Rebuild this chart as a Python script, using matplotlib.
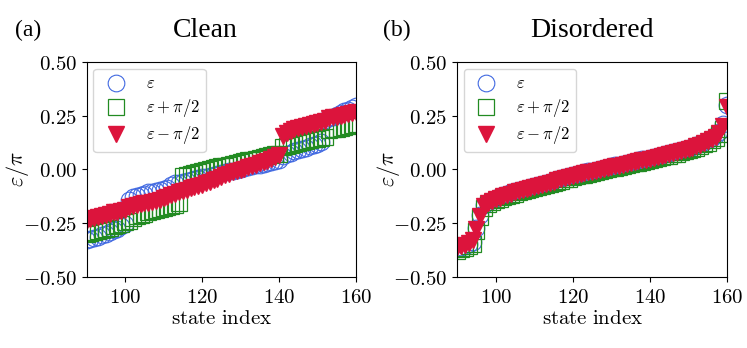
import numpy as np
import matplotlib
matplotlib.use("Agg")
import matplotlib.pyplot as plt
from matplotlib.ticker import FuncFormatter

plt.rcParams['mathtext.fontset'] = 'cm'

# %% Data
state_index = list(range(90, 161))

# (a) Clean
clean_eps = [-0.330, -0.325, -0.318, -0.312, -0.305, -0.298, -0.290, -0.283, -0.275, -0.265,
             -0.255, -0.140, -0.130, -0.123, -0.117, -0.112, -0.107, -0.103, -0.099, -0.095,
             -0.091, -0.087, -0.070, -0.065, -0.061, -0.057, -0.053, -0.049, -0.045, -0.041,
             -0.037, -0.033, -0.029, -0.025, -0.021, -0.017, -0.013, -0.009, -0.005, -0.001,
             0.003, 0.007, 0.011, 0.015, 0.019, 0.023, 0.027, 0.031, 0.035, 0.040,
             0.046, 0.062, 0.070, 0.077, 0.084, 0.090, 0.096, 0.102, 0.108, 0.114,
             0.120, 0.126, 0.230, 0.238, 0.246, 0.254, 0.262, 0.270, 0.278, 0.286,
             0.294]
clean_plus = [-0.300, -0.295, -0.290, -0.285, -0.280, -0.275, -0.270, -0.264, -0.258, -0.252,
              -0.246, -0.240, -0.225, -0.218, -0.212, -0.206, -0.200, -0.195, -0.190, -0.185,
              -0.180, -0.175, -0.170, -0.165, -0.158, -0.030, -0.025, -0.020, -0.015, -0.010,
              -0.006, -0.002, 0.002, 0.006, 0.010, 0.014, 0.018, 0.022, 0.026, 0.030,
              0.034, 0.038, 0.042, 0.046, 0.050, 0.054, 0.058, 0.062, 0.066, 0.070,
              0.074, 0.105, 0.110, 0.115, 0.120, 0.124, 0.128, 0.132, 0.136, 0.140,
              0.144, 0.148, 0.152, 0.182, 0.186, 0.190, 0.194, 0.198, 0.202, 0.206,
              0.210]
clean_minus = [-0.235, -0.230, -0.225, -0.220, -0.215, -0.210, -0.205, -0.200, -0.196, -0.192,
               -0.188, -0.175, -0.170, -0.166, -0.162, -0.158, -0.154, -0.150, -0.145, -0.140,
               -0.134, -0.128, -0.121, -0.114, -0.107, -0.100, -0.094, -0.088, -0.082, -0.076,
               -0.070, -0.063, -0.056, -0.049, -0.042, -0.035, -0.028, -0.021, -0.014, -0.008,
               -0.002, 0.004, 0.010, 0.016, 0.022, 0.028, 0.034, 0.040, 0.048, 0.056,
               0.066, 0.155, 0.168, 0.180, 0.186, 0.192, 0.198, 0.203, 0.208, 0.213,
               0.218, 0.222, 0.226, 0.238, 0.242, 0.246, 0.250, 0.254, 0.258, 0.262,
               0.268]

# (b) Disordered
dis_eps = [-0.370, -0.362, -0.355, -0.348, -0.335, -0.270, -0.210, -0.165, -0.150, -0.140,
           -0.132, -0.125, -0.119, -0.113, -0.107, -0.101, -0.096, -0.091, -0.086, -0.081,
           -0.076, -0.071, -0.066, -0.061, -0.056, -0.051, -0.046, -0.041, -0.036, -0.031,
           -0.026, -0.021, -0.017, -0.013, -0.009, -0.005, -0.001, 0.003, 0.007, 0.011,
           0.015, 0.019, 0.023, 0.027, 0.031, 0.035, 0.039, 0.043, 0.047, 0.051,
           0.055, 0.059, 0.063, 0.067, 0.071, 0.075, 0.080, 0.085, 0.090, 0.095,
           0.100, 0.106, 0.112, 0.119, 0.127, 0.136, 0.146, 0.158, 0.175, 0.210,
           0.300]
dis_plus = [-0.380, -0.372, -0.366, -0.358, -0.345, -0.285, -0.222, -0.178, -0.160, -0.150,
            -0.142, -0.136, -0.129, -0.124, -0.117, -0.112, -0.106, -0.102, -0.096, -0.092,
            -0.086, -0.082, -0.076, -0.072, -0.066, -0.062, -0.056, -0.052, -0.046, -0.042,
            -0.036, -0.032, -0.027, -0.024, -0.019, -0.016, -0.011, -0.008, -0.003, 0.000,
            0.005, 0.008, 0.013, 0.016, 0.021, 0.024, 0.029, 0.032, 0.037, 0.040,
            0.045, 0.048, 0.053, 0.056, 0.061, 0.064, 0.070, 0.074, 0.080, 0.084,
            0.090, 0.095, 0.102, 0.108, 0.117, 0.125, 0.136, 0.146, 0.165, 0.190,
            0.320]
dis_minus = [-0.360, -0.356, -0.350, -0.342, -0.330, -0.275, -0.218, -0.170, -0.156, -0.146,
             -0.137, -0.131, -0.124, -0.118, -0.112, -0.106, -0.101, -0.096, -0.091, -0.086,
             -0.081, -0.076, -0.071, -0.066, -0.061, -0.056, -0.051, -0.046, -0.041, -0.036,
             -0.031, -0.026, -0.022, -0.018, -0.014, -0.010, -0.006, -0.002, 0.002, 0.006,
             0.010, 0.014, 0.018, 0.022, 0.026, 0.030, 0.034, 0.038, 0.042, 0.046,
             0.050, 0.054, 0.058, 0.062, 0.066, 0.070, 0.075, 0.080, 0.085, 0.090,
             0.095, 0.101, 0.107, 0.114, 0.122, 0.131, 0.141, 0.153, 0.170, 0.200,
             0.290]

labels = [r'$\varepsilon$', r'$\varepsilon+\pi/2$', r'$\varepsilon-\pi/2$']
panel_tags = ['(a)', '(b)']
panel_titles = ['Clean', 'Disordered']
yticks = [-0.5, -0.25, 0.0, 0.25, 0.5]
xticks = [100, 120, 140, 160]

# %% Figure
fig = plt.figure(figsize=(7.47, 3.48), dpi=100)
ax_a = fig.add_axes([0.116, 0.204, 0.3605, 0.618])
ax_b = fig.add_axes([0.612, 0.204, 0.3614, 0.618])

panels = [(ax_a, clean_eps, clean_plus, clean_minus),
          (ax_b, dis_eps, dis_plus, dis_minus)]

for ax, e0, ep, em in panels:
    ax.plot(state_index, e0, 'o', ms=12, mfc='none', mec='royalblue', mew=0.8, label=labels[0])
    ax.plot(state_index, ep, 's', ms=12, mfc='none', mec='forestgreen', mew=0.9, label=labels[1])
    ax.plot(state_index, em, 'v', ms=12, color='crimson', mec='crimson', label=labels[2])
    ax.set_xlim(90, 160)
    ax.set_ylim(-0.5, 0.5)
    ax.set_xticks(xticks)
    ax.set_yticks(yticks)
    ax.xaxis.set_major_formatter(FuncFormatter(lambda v, p: r'$%d$' % v))
    ax.yaxis.set_major_formatter(FuncFormatter(lambda v, p: r'$%.2f$' % v))
    ax.tick_params(labelsize=15, direction='out', length=3.5)
    ax.set_xlabel(r'$\mathrm{state\ index}$', fontsize=15, labelpad=1)
    ax.set_ylabel(r'$\varepsilon/\pi$', fontsize=16)
    ax.yaxis.set_label_coords(-0.205, 0.5)
    ax.legend(loc='upper left', fontsize=12, framealpha=0.8, borderaxespad=0.4,
              labelspacing=0.3, borderpad=0.35)

# panel tags and titles
fig.text(0.020, 0.912, panel_tags[0], fontsize=17, family='Liberation Serif', va='center')
fig.text(0.275, 0.912, panel_titles[0], fontsize=20, family='Liberation Serif', va='center', ha='center')
fig.text(0.513, 0.912, panel_tags[1], fontsize=17, family='Liberation Serif', va='center')
fig.text(0.793, 0.912, panel_titles[1], fontsize=20, family='Liberation Serif', va='center', ha='center')

fig.savefig('out.png', dpi=100)
